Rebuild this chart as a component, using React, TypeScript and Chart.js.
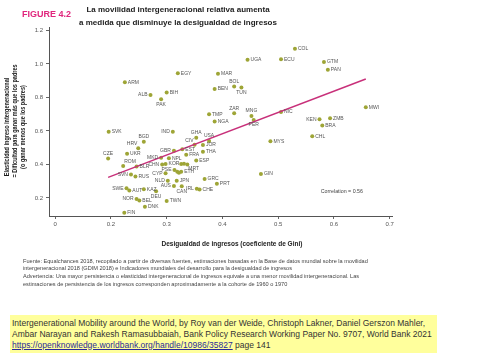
import React, { useEffect, useRef } from "react";
import { Chart, registerables } from "chart.js";

Chart.register(...registerables);

// ---------- DATA ----------
const countries = [
  "COL", "UGA", "ECU", "GTM", "PAN", "EGY", "MAR", "ARM", "ALB", "BIH",
  "PAK", "BEN", "BOL", "TUN", "ZAR", "TMP", "NGA", "MNG", "PER", "NIC",
  "KEN", "ZMB", "BRA", "CHL", "MYS", "MWI", "GIN", "SVK", "CZE", "IND",
  "BGD", "HRV", "UKR", "GHA", "CIV", "USA", "JOR", "THA", "EST", "GBR",
  "MKD", "NPL", "FRA", "ESP", "KOR", "MRT", "", "", "ETH", "",
  "", "PSE", "CYP", "NLD", "JPN", "AUS", "CAN", "IRL", "CHE", "GRC",
  "PRT", "TWN", "ROM", "BLR", "CHN", "SVN", "RUS", "SWE", "AUT", "KAZ",
  "NOR", "BEL", "DEU", "DNK", "FIN",
];
const gini = [
  0.530, 0.445, 0.505, 0.582, 0.589, 0.320, 0.392, 0.225, 0.271, 0.300,
  0.290, 0.386, 0.421, 0.434, 0.421, 0.376, 0.386, 0.452, 0.456, 0.505,
  0.574, 0.593, 0.579, 0.561, 0.486, 0.657, 0.469, 0.196, 0.195, 0.311,
  0.259, 0.249, 0.229, 0.353, 0.350, 0.376, 0.365, 0.365, 0.328, 0.313,
  0.290, 0.304, 0.335, 0.353, 0.298, 0.337, 0.326, 0.331, 0.326, 0.319,
  0.322, 0.314, 0.298, 0.302, 0.318, 0.313, 0.327, 0.354, 0.359, 0.368,
  0.390, 0.300, 0.222, 0.246, 0.292, 0.236, 0.244, 0.228, 0.233, 0.259,
  0.246, 0.251, 0.281, 0.261, 0.224,
];
const elasticity = [
  1.091, 1.026, 1.028, 1.012, 0.966, 0.944, 0.942, 0.891, 0.815, 0.829,
  0.789, 0.851, 0.865, 0.859, 0.706, 0.700, 0.656, 0.690, 0.666, 0.713,
  0.670, 0.676, 0.632, 0.568, 0.538, 0.741, 0.343, 0.596, 0.435, 0.595,
  0.535, 0.497, 0.464, 0.560, 0.518, 0.540, 0.516, 0.476, 0.490, 0.482,
  0.440, 0.437, 0.458, 0.423, 0.403, 0.400, 0.402, 0.404, 0.356, 0.357,
  0.350, 0.367, 0.347, 0.303, 0.303, 0.271, 0.270, 0.255, 0.251, 0.313,
  0.284, 0.181, 0.390, 0.387, 0.400, 0.340, 0.328, 0.258, 0.244, 0.252,
  0.194, 0.184, 0.240, 0.148, 0.112,
];
// fitted line end points
const fitGini = [0.195, 0.657];
const fitElasticity = [0.323, 0.91];

const xTicks = [0.1, 0.2, 0.3, 0.4, 0.5, 0.6, 0.7];
const xTickLabels = ["0", "0.2", "0.3", "0.4", "0.5", "0.6", "0.7"];
const yTicks = [0.2, 0.4, 0.6, 0.8, 1.0, 1.2];
const yTickLabels = ["0.2", "0.4", "0.6", "0.8", "1.0", "1.2"];

const yTitleLines = [
  "Elasticidad ingreso intergeneracional",
  "= Dificultad para ganar más que los padres",
  "(o ganar menos que los padres)",
];
const correlationText = "Correlation = 0.56";

// label placement (style only)
const labelSide: Record<string, string> = {
  ALB: "l", PAK: "b", BOL: "t", TUN: "b", ZAR: "t", MNG: "t", PER: "b",
  KEN: "l", CZE: "t", IND: "l", BGD: "t", HRV: "tl", GHA: "t", CIV: "tl",
  USA: "t", GBR: "l", MKD: "l", MRT: "br", PSE: "l", CYP: "l", NLD: "l",
  AUS: "l", CAN: "b", IRL: "l", ROM: "tr", CHN: "l", SVN: "l", SWE: "l",
  NOR: "l", DEU: "b",
};

const POINT = "#9ea536";
const LINE = "#c8307a";
const FONT = "'Liberation Sans', Arial, sans-serif";

const labelPlugin = {
  id: "countryLabels",
  afterDatasetsDraw(chart: any) {
    const { ctx, scales } = chart;
    ctx.save();
    ctx.font = `5px ${FONT}`;
    ctx.fillStyle = "#555";
    countries.forEach((c, i) => {
      if (!c) return;
      const px = scales.x.getPixelForValue(gini[i]);
      const py = scales.y.getPixelForValue(elasticity[i]);
      const side = labelSide[c] || "r";
      let tx = px + 3, ty = py, align: CanvasTextAlign = "left";
      if (side === "l") { tx = px - 3; align = "right"; }
      else if (side === "t") { tx = px; ty = py - 5; align = "center"; }
      else if (side === "b") { tx = px; ty = py + 5; align = "center"; }
      else if (side === "tl") { tx = px - 1; ty = py - 4.5; align = "right"; }
      else if (side === "tr") { tx = px + 1; ty = py - 4.5; align = "left"; }
      else if (side === "br") { tx = px + 1; ty = py + 4.5; align = "left"; }
      ctx.textAlign = align;
      ctx.textBaseline = "middle";
      ctx.fillText(c, tx, ty);
    });
    ctx.restore();
  },
};

function ScatterChart() {
  const ref = useRef<HTMLCanvasElement | null>(null);
  useEffect(() => {
    if (!ref.current) return;
    const chart = new Chart(ref.current, {
      type: "scatter",
      data: {
        datasets: [
          {
            type: "line" as any,
            data: fitGini.map((g, i) => ({ x: g, y: fitElasticity[i] })),
            borderColor: LINE,
            borderWidth: 1.5,
            pointRadius: 0,
            fill: false,
          },
          {
            data: gini.map((g, i) => ({ x: g, y: elasticity[i] })),
            backgroundColor: POINT,
            borderWidth: 0,
            pointRadius: 2,
          },
        ],
      },
      options: {
        animation: false,
        responsive: false,
        devicePixelRatio: 1,
        layout: { padding: { left: 3, top: 27, right: 108, bottom: 0 } },
        plugins: { legend: { display: false }, tooltip: { enabled: false } },
        scales: {
          x: {
            type: "linear",
            min: 0.089,
            max: 0.704,
            afterFit: (s: any) => { s.height = 39; },
            afterBuildTicks: (s: any) => { s.ticks = xTicks.map((v) => ({ value: v })); },
            ticks: {
              font: { size: 6, family: FONT },
              color: "#555",
              padding: 2,
              maxRotation: 0,
              callback: (_v: any, i: number) => xTickLabels[i],
            },
            grid: { drawOnChartArea: false, drawTicks: true, tickLength: 3, color: "#666" },
            border: { display: true, color: "#555", width: 1 },
          },
          y: {
            type: "linear",
            min: 0.092,
            max: 1.221,
            afterFit: (s: any) => { s.width = 46; },
            afterBuildTicks: (s: any) => { s.ticks = yTicks.map((v) => ({ value: v })); },
            ticks: {
              font: { size: 6, family: FONT },
              color: "#555",
              padding: 3,
              callback: (_v: any, i: number) => yTickLabels[i],
            },
            grid: { drawOnChartArea: false, drawTicks: true, tickLength: 3, color: "#666" },
            border: { display: true, color: "#555", width: 1 },
          },
        },
      },
      plugins: [labelPlugin],
    });
    return () => chart.destroy();
  }, []);
  return (
    <canvas
      ref={ref}
      width={500}
      height={255}
      style={{ position: "absolute", left: 0, top: 0, width: 500, height: 255 }}
    />
  );
}

export default function App() {
  const abs = (o: React.CSSProperties): React.CSSProperties => ({ position: "absolute", whiteSpace: "nowrap", ...o });
  const yTitlePos = [
    { x: 7, y: 127 },
    { x: 15, y: 121 },
    { x: 23, y: 127 },
  ];
  return (
    <div style={{ position: "absolute", left: 0, top: 0, width: 500, height: 361, background: "#fff", fontFamily: FONT, overflow: "hidden" }}>
      <ScatterChart />
      {yTitleLines.map((t, i) => (
        <div
          key={i}
          style={abs({
            left: yTitlePos[i].x,
            top: yTitlePos[i].y,
            fontSize: 6.3,
            fontWeight: "bold",
            color: "#1a1a1a",
            lineHeight: "8px",
            transform: "translate(-50%, -50%) rotate(-90deg) scaleX(0.88)",
          })}
        >
          {t}
        </div>
      ))}
      <div style={abs({ left: 22, top: 8, fontSize: 9, fontWeight: "bold", color: "#e0267d", lineHeight: "12px" })}>FIGURE 4.2</div>
      <div style={abs({ left: 60, top: 3, width: 236, textAlign: "center", fontSize: 8, fontWeight: "bold", color: "#222", lineHeight: "13px" })}>
        La movilidad intergeneracional relativa aumenta
        <br />a medida que disminuye la desigualdad de ingresos
      </div>
      <div style={abs({ left: 263, top: 187, width: 100, textAlign: "right", fontSize: 5.3, color: "#444", lineHeight: "8px" })}>{correlationText}</div>
      <div style={abs({ left: 132, top: 239, width: 200, textAlign: "center", fontSize: 6.5, fontWeight: "bold", color: "#222", lineHeight: "9px" })}>
        Desigualdad de ingresos (coeficiente de Gini)
      </div>
      <div style={abs({ left: 23, top: 257.5, fontSize: 5.6, color: "#444", lineHeight: "7.7px" })}>
        Fuente: Equalchances 2018, recopilado a partir de diversas fuentes, estimaciones basadas en la Base de datos mundial sobre la movilidad
        <br />intergeneracional 2018 (GDIM 2018) e Indicadores mundiales del desarrollo para la desigualdad de ingresos
        <br />Advertencia: Una mayor persistencia o elasticidad intergeneracional de ingresos equivale a una menor movilidad intergeneracional. Las
        <br />estimaciones de persistencia de los ingresos corresponden aproximadamente a la cohorte de 1960 o 1970
      </div>
      <div style={abs({ left: 10, top: 315, width: 427, height: 38, background: "#ffff9c" })} />
      <div style={abs({ left: 12, top: 317.5, fontSize: 8.5, color: "#333", lineHeight: "11px" })}>
        Intergenerational Mobility around the World, by Roy van der Weide, Christoph Lakner, Daniel Gerszon Mahler,
        <br />Ambar Narayan and Rakesh Ramasubbaiah, Bank Policy Research Working Paper No. 9707, World Bank 2021
        <br />
        <a href="https://openknowledge.worldbank.org/handle/10986/35827" style={{ color: "#2b2b9a", textDecoration: "underline" }}>
          https://openknowledge.worldbank.org/handle/10986/35827
        </a>{" "}page 141
      </div>
    </div>
  );
}
